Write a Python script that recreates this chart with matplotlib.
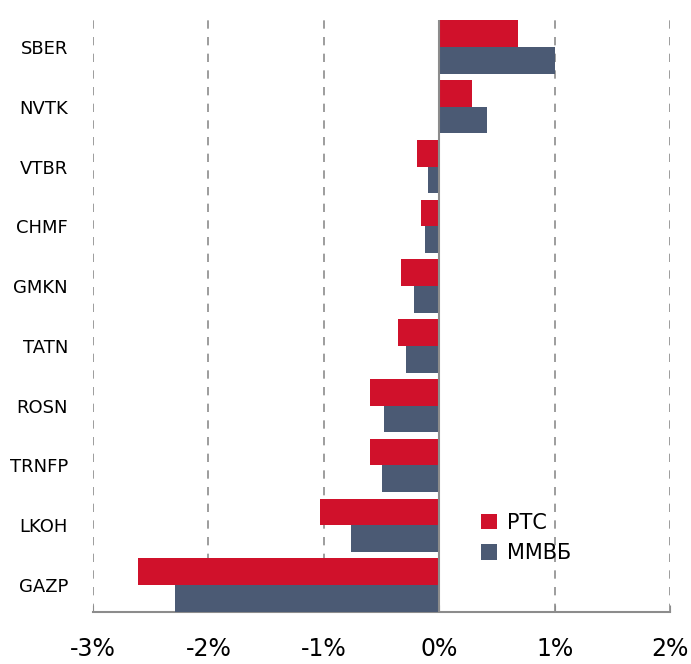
import numpy as np
import matplotlib
matplotlib.use("Agg")
import matplotlib.pyplot as plt

# Данные (в %)
tickers = ["GAZP", "LKOH", "TRNFP", "ROSN", "TATN", "GMKN", "CHMF", "VTBR", "NVTK", "SBER"]
rts = [-2.61, -1.03, -0.60, -0.60, -0.36, -0.33, -0.16, -0.19, 0.28, 0.68]
micex = [-2.29, -0.76, -0.50, -0.48, -0.29, -0.22, -0.12, -0.10, 0.41, 1.00]
xticks = [-3, -2, -1, 0, 1, 2]
xtick_labels = ["-3%", "-2%", "-1%", "0%", "1%", "2%"]

red = "#D0112B"
blue = "#4B5A74"
grey = "#8C8C8C"

fig = plt.figure(figsize=(6.91, 6.64), dpi=100)
ax = fig.add_axes([93 / 691, 1 - 612 / 664, (670 - 93) / 691, (612 - 20) / 664])

y = np.arange(len(tickers))
h = 0.445
ax.barh(y + h / 2, rts, height=h, color=red, label="РТС", zorder=3)
ax.barh(y - h / 2, micex, height=h, color=blue, label="ММВБ", zorder=3)

ax.set_xlim(-3, 2)
ax.set_ylim(-0.45, 9.45)
ax.set_xticks(xticks)
ax.set_xticklabels(xtick_labels, fontsize=17)
ax.set_yticks(y)
ax.set_yticklabels(tickers, fontsize=13)

ax.xaxis.grid(True, linestyle=(0, (5, 5)), color=grey, lw=1.2, zorder=0)
ax.axvline(0, color=grey, lw=1.5, zorder=4)

for s in ["left", "top", "right"]:
    ax.spines[s].set_visible(False)
ax.spines["bottom"].set_color(grey)
ax.spines["bottom"].set_linewidth(1.5)
ax.tick_params(axis="y", length=0, pad=18)
ax.tick_params(axis="x", direction="in", length=5, color=grey, pad=18)

ax.legend(loc="center left", bbox_to_anchor=(0.64, 0.125), frameon=False,
          fontsize=15, handlelength=0.75, handleheight=0.75, handletextpad=0.5,
          labelspacing=0.5)

fig.savefig("out.png", dpi=100)
